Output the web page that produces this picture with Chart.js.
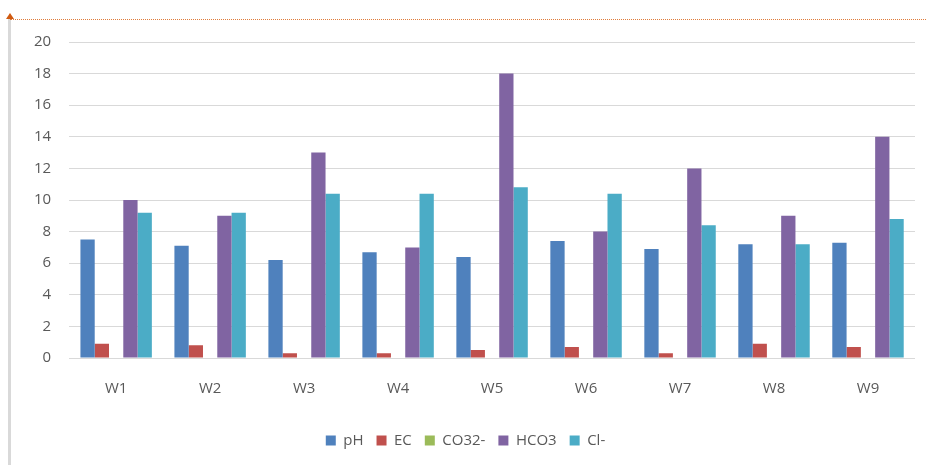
<!DOCTYPE html>
<html>
<head>
<meta charset="utf-8">
<script src="https://cdn.jsdelivr.net/npm/chart.js@4.4.0/dist/chart.umd.min.js"></script>
<style>
  html, body { margin: 0; padding: 0; background: #fff; }
  #wrap { position: relative; width: 926px; height: 465px; overflow: hidden; }
  #leftRule { position: absolute; left: 8px; top: 18px; width: 3px; height: 447px; background: #d9d9d9; }
  #topRule { position: absolute; left: 10px; top: 19px; width: 916px; border-top: 1px dotted #e07b39; }
  #arrow { position: absolute; left: 6px; top: 13px; width: 0; height: 0;
           border-left: 4px solid transparent; border-right: 4px solid transparent; border-bottom: 6px solid #d05a10; }
  canvas { position: absolute; left: 0; top: 0; }
</style>
</head>
<body>
<div id="wrap">
  <div id="leftRule"></div>
  <div id="topRule"></div>
  <div id="arrow"></div>
  <canvas id="chemChart" width="926" height="465"></canvas>
</div>
<script>
// well labels + measured parameters
const wells = ['W1', 'W2', 'W3', 'W4', 'W5', 'W6', 'W7', 'W8', 'W9'];
const phValues = [7.5, 7.1, 6.2, 6.7, 6.4, 7.4, 6.9, 7.2, 7.3];
const ecValues = [0.9, 0.8, 0.3, 0.3, 0.5, 0.7, 0.3, 0.9, 0.7];
const co3Values = [0, 0, 0, 0, 0, 0, 0, 0, 0];
const hco3Values = [10, 9, 13, 7, 18, 8, 12, 9, 14];
const clValues = [9.2, 9.2, 10.4, 10.4, 10.8, 10.4, 8.4, 7.2, 8.8];
const yTicks = [0, 2, 4, 6, 8, 10, 12, 14, 16, 18, 20];

function makeSet(label, data, color) {
    return {
        label: label,
        data: data,
        backgroundColor: color,
        borderColor: color,
        borderWidth: 0,
        barPercentage: 1,
        categoryPercentage: 0.76
    };
}

const tickFont = { family: 'Open Sans', size: 15 };

const ctx = document.getElementById('chemChart').getContext('2d');
new Chart(ctx, {
    type: 'bar',
    data: {
        labels: wells,
        datasets: [
            makeSet('pH', phValues, '#4f81bd'),
            makeSet('EC', ecValues, '#c0504d'),
            makeSet('CO32-', co3Values, '#9bbb59'),
            makeSet('HCO3', hco3Values, '#8064a2'),
            makeSet('Cl-', clValues, '#4bacc6')
        ]
    },
    options: {
        responsive: false,
        animation: false,
        layout: { padding: { left: 16, right: 11, top: 42, bottom: 7 } },
        scales: {
            x: {
                grid: { display: false, drawTicks: false },
                border: { display: false },
                ticks: { color: '#595959', font: tickFont, padding: 22 }
            },
            y: {
                min: 0, max: 20,
                afterBuildTicks: axis => { axis.ticks = yTicks.map(v => ({ value: v })); },
                grid: { color: '#d9d9d9', lineWidth: 1, drawTicks: false },
                border: { display: false },
                ticks: { color: '#595959', font: tickFont, padding: 18 }
            }
        },
        plugins: {
            legend: {
                position: 'bottom',
                labels: {
                    color: '#595959',
                    font: tickFont,
                    boxWidth: 10, boxHeight: 10,
                    padding: 13
                }
            },
            tooltip: { enabled: false }
        }
    }
});
</script>
</body>
</html>
